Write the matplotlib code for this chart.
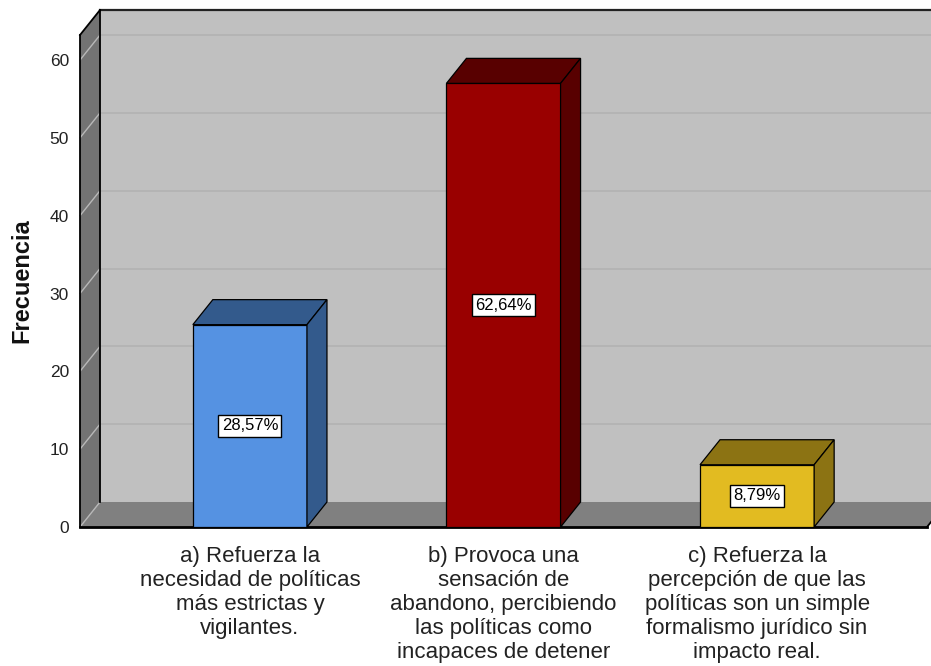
import matplotlib
matplotlib.use("Agg")
import matplotlib.pyplot as plt
from matplotlib.patches import Polygon
import numpy as np

plt.rcParams['font.family'] = ['Liberation Sans', 'DejaVu Sans']

# ---- data ----
categories = [
    "a) Refuerza la\nnecesidad de políticas\nmás estrictas y\nvigilantes.",
    "b) Provoca una\nsensación de\nabandono, percibiendo\nlas políticas como\nincapaces de detener",
    "c) Refuerza la\npercepción de que las\npolíticas son un simple\nformalismo jurídico sin\nimpacto real.",
]
frequencies = [26, 57, 8]
percent_labels = ["28,57%", "62,64%", "8,79%"]
yticks = [0, 10, 20, 30, 40, 50, 60]
ylabel = "Frecuencia"

front_colors = ["#5592e2", "#990000", "#e2bb21"]
dark_colors = ["#335a8c", "#580000", "#8c7313"]

W, H, DPI = 931, 666, 100
fig = plt.figure(figsize=(W / DPI, H / DPI), dpi=DPI)
ax = fig.add_axes([80 / W, (H - 527) / H, 847 / W, 492 / H])
x0, x1 = -0.67, 2.67
y1 = 492 / 7.783
ax.set_xlim(x0, x1)
ax.set_ylim(0, y1)
for s in ax.spines.values():
    s.set_visible(False)
ax.patch.set_visible(False)

# depth offset in data units (20 px right, 25 px up)
p = ax.transData.transform([(0, 0)])[0]
q = ax.transData.inverted().transform([p + np.array([20, 25]) * fig.dpi / 100])[0]
ddx, ddy = q[0], q[1]

def poly(pts, fc, ec="none", lw=0.0, z=1):
    ax.add_patch(Polygon(pts, closed=True, facecolor=fc, edgecolor=ec,
                         linewidth=lw, zorder=z, clip_on=False, joinstyle="miter"))

# back wall
poly([(x0 + ddx, ddy), (x1 + ddx, ddy), (x1 + ddx, y1 + ddy), (x0 + ddx, y1 + ddy)], "#c0c0c0", z=0.5)
# left wall
poly([(x0, 0), (x0 + ddx, ddy), (x0 + ddx, y1 + ddy), (x0, y1)], "#737373", z=0.6)
# floor
poly([(x0, 0), (x1, 0), (x1 + ddx, ddy), (x0 + ddx, ddy)], "#808080", z=0.6)

# gridlines
for t in yticks:
    if t > 0:
        ax.plot([x0 + ddx, x1 + ddx], [t + ddy, t + ddy], color="#b2b2b2", lw=1.2, zorder=0.7, clip_on=False)
    ax.plot([x0, x0 + ddx], [t, t + ddy], color="#b8b8b8", lw=1.0, zorder=0.7, clip_on=False)

# frame edges
ax.plot([x0 + ddx, x1 + ddx], [y1 + ddy, y1 + ddy], color="#222222", lw=1.6, zorder=0.8, clip_on=False)
ax.plot([x0 + ddx, x0 + ddx], [ddy, y1 + ddy], color="black", lw=1.3, zorder=0.8, clip_on=False)
ax.plot([x0, x0], [0, y1], color="black", lw=1.3, zorder=0.8, clip_on=False)
ax.plot([x0, x0 + ddx], [y1, y1 + ddy], color="black", lw=1.3, zorder=0.8, clip_on=False)
ax.plot([x0, x1], [0, 0], color="black", lw=2.0, zorder=0.8, clip_on=False)
ax.plot([x1, x1 + ddx], [0, ddy], color="black", lw=1.3, zorder=0.8, clip_on=False)

# bars
bw = 0.45
for i, (v, fc, dc, lab) in enumerate(zip(frequencies, front_colors, dark_colors, percent_labels)):
    l, r = i - bw / 2, i + bw / 2
    poly([(l, 0), (r, 0), (r, v), (l, v)], fc, "black", 0.9, z=2)
    poly([(l, v), (r, v), (r + ddx, v + ddy), (l + ddx, v + ddy)], dc, "black", 0.9, z=2)
    poly([(r, 0), (r + ddx, ddy), (r + ddx, v + ddy), (r, v)], dc, "black", 0.9, z=2)
    ax.text(i, v / 2, lab, ha="center", va="center", fontsize=12, zorder=3,
            bbox=dict(boxstyle="square,pad=0.2", facecolor="white", edgecolor="black", linewidth=1.0))

ax.set_yticks(yticks)
ax.set_yticklabels([str(t) for t in yticks], fontsize=12.5, color="#222222")
ax.set_xticks(range(len(categories)))
ax.set_xticklabels(categories, fontsize=16, linespacing=1.18, color="#222222")
ax.tick_params(axis="y", length=0, pad=8)
ax.tick_params(axis="x", length=0, pad=14)
fig.text(22 / W, 1 - 281 / H, ylabel, rotation=90, ha="center", va="center",
         fontsize=17, fontweight="bold", color="#111111")

fig.savefig("out.png", dpi=DPI)
